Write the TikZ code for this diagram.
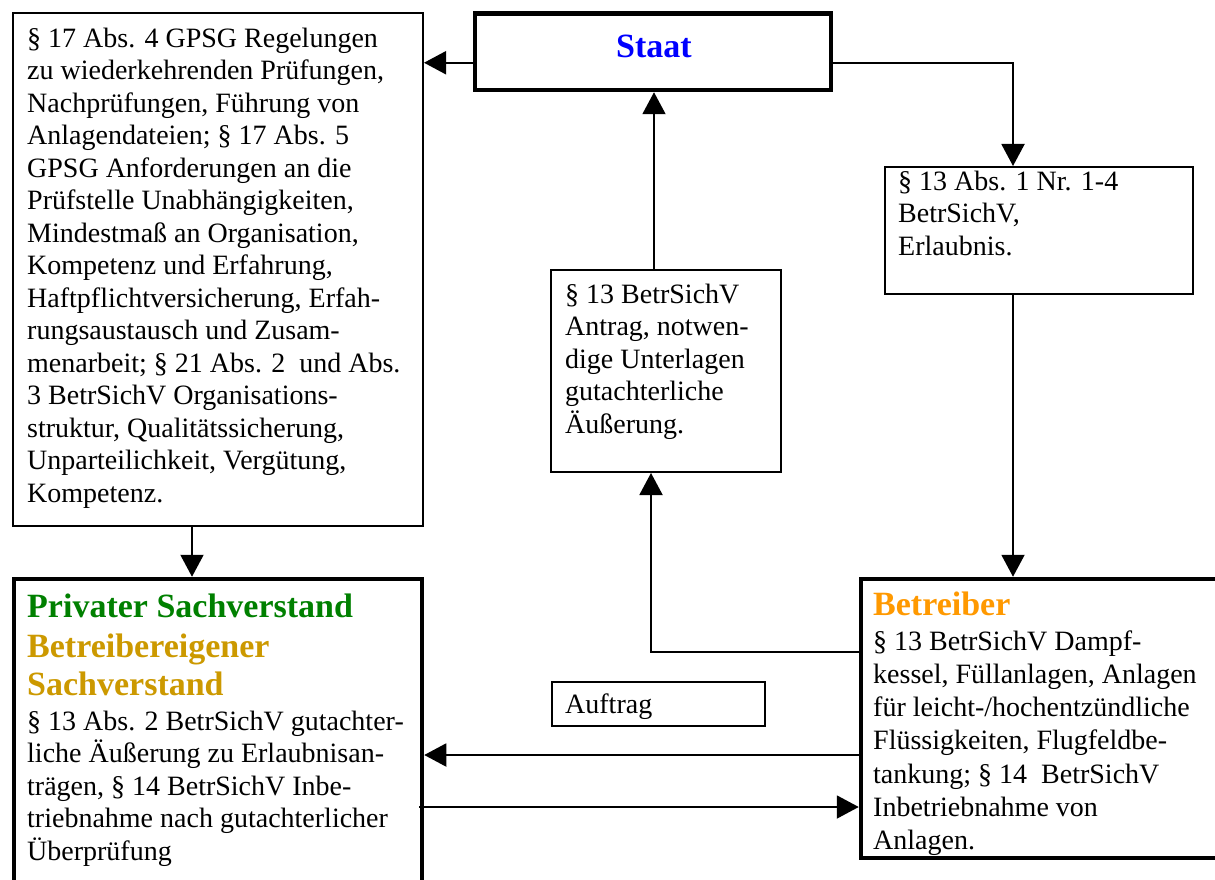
\documentclass[tikz,border=0pt]{standalone}
\usepackage{fontspec}
\setmainfont{Liberation Serif}
\usetikzlibrary{arrows.meta}
\definecolor{staatblue}{RGB}{0,0,255}
\definecolor{pgreen}{RGB}{0,128,0}
\definecolor{pgold}{RGB}{204,153,0}
\definecolor{borange}{RGB}{255,153,0}
\newcommand\topst{\rule{0pt}{26pt}}
\newcommand\hdr[2]{{\fontsize{34}{32.5}\selectfont\bfseries\color{#1}#2}}
\begin{document}
\begin{tikzpicture}[x=1pt,y=-1pt,
  thinbox/.style={draw, line width=2pt, inner sep=0pt},
  thickbox/.style={draw, line width=4.5pt, inner sep=0pt},
  txt/.style={inner sep=0pt, anchor=north west, align=left, font={\fontsize{28}{32.5}\selectfont}},
  arr/.style={line width=2pt, -{Triangle[length=22pt,width=23pt]}},
  ln/.style={line width=2pt}]
\fill[white] (0,0) rectangle (1215,880);
\useasboundingbox (0,0) rectangle (1215,880);

% boxes
\node[thinbox, minimum width=410, minimum height=513] (L) at (218,269.5) {};
\node[thickbox, minimum width=356, minimum height=76.5] (S) at (653,51.75) {};
\node[thinbox, minimum width=308, minimum height=127] (R) at (1039,230.5) {};
\node[thinbox, minimum width=230, minimum height=202] (M) at (666,371) {};
\node[thickbox, minimum width=359, minimum height=279] (B) at (1040.5,718.5) {};
\node[thickbox, minimum width=408, minimum height=311] (P) at (218,734.5) {};
\node[draw, line width=1.5pt, inner sep=0pt, minimum width=213, minimum height=44] (A) at (658.5,704) {};

% texts
\node[anchor=base, inner sep=0pt, font={\fontsize{34}{34}\selectfont\bfseries}, text=staatblue] (St) at (654,58) {Staat};
\node[txt] (Lt) at (27,21) {\topst§ 17 Abs. 4 GPSG Regelungen\\
zu wiederkehrenden Prüfungen,\\
Nachprüfungen, Führung von\\
Anlagendateien; § 17 Abs. 5\\
GPSG Anforderungen an die\\
Prüfstelle Unabhängigkeiten,\\
Mindestmaß an Organisation,\\
Kompetenz und Erfahrung,\\
Haftpflichtversicherung, Erfah-\\
rungsaustausch und Zusam-\\
menarbeit; § 21 Abs. 2\ \ und Abs.\\
3 BetrSichV Organisations-\\
struktur, Qualitätssicherung,\\
Unparteilichkeit, Vergütung,\\
Kompetenz.};
\node[txt] (Rt) at (898,164) {\topst§ 13 Abs. 1 Nr. 1-4\\
BetrSichV,\\
Erlaubnis.};
\node[txt] (Mt) at (565,277) {\topst§ 13 BetrSichV\\
Antrag, notwen-\\
dige Unterlagen\\
gutachterliche\\
Äußerung.};
\node[txt, font={\fontsize{28}{33.2}\selectfont}] (Bt) at (873,589) {\topst\hdr{borange}{Betreiber}\\[1.8pt]
§ 13 BetrSichV Dampf-\\
kessel, Füllanlagen, Anlagen\\
für leicht-/hochentzündliche\\
Flüssigkeiten, Flugfeldbe-\\
tankung; § 14\ \ BetrSichV\\
Inbetriebnahme von\\
Anlagen.};
\node[txt] (Pt) at (27,591) {\topst\hdr{pgreen}{Privater Sachverstand}\\[7.5pt]
\hdr{pgold}{Betreibereigener}\\[5.5pt]
\hdr{pgold}{Sachverstand}\\[2.5pt]
§ 13 Abs. 2 BetrSichV gutachter-\\
liche Äußerung zu Erlaubnisan-\\
trägen, § 14 BetrSichV Inbe-\\
triebnahme nach gutachterlicher\\
Überprüfung};
\node[anchor=base west, inner sep=0pt, font={\fontsize{28}{32.5}\selectfont}] (At) at (565,713) {Auftrag};

% connectors
\draw[arr] ([yshift=-11pt]S.west) -- ([yshift=-11pt]S.west -| L.east);
\draw[arr] ([yshift=-11pt]S.east) -| ([xshift=-26pt]R.north);
\draw[arr] ([xshift=-26pt]R.south) -- ([xshift=-26pt]R.south |- B.north);
\draw[arr] ([xshift=-12pt]M.north) -- ([xshift=-12pt]M.north |- S.south);
\draw[arr] ([yshift=66.5pt]B.west) -| ([xshift=-15pt]M.south);
\draw[arr] ([yshift=-36.5pt]B.west) -- ([yshift=-36.5pt]B.west -| P.east);
\draw[arr] ([xshift=-5pt,yshift=-72.5pt]P.east) -- ([yshift=-72.5pt]P.east -| B.west);
\draw[arr] ([xshift=-26pt]L.south) -- ([xshift=-26pt]L.south |- P.north);
\end{tikzpicture}
\end{document}
